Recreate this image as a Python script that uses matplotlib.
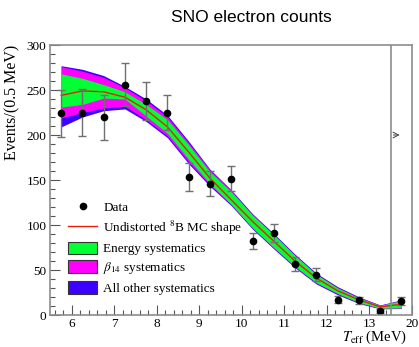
import numpy as np
import matplotlib
matplotlib.use('Agg')
import matplotlib.pyplot as plt
from matplotlib.lines import Line2D
from matplotlib.patches import Patch
from matplotlib.ticker import MultipleLocator, FixedLocator

plt.rcParams['font.family'] = 'Liberation Serif'
plt.rcParams['mathtext.fontset'] = 'stix'

# bin centres (last bin is the 13.5-20 MeV overflow, drawn at 13.75)
bin_centres = [5.75, 6.25, 6.75, 7.25, 7.75, 8.25, 8.75, 9.25, 9.75,
               10.25, 10.75, 11.25, 11.75, 12.25, 12.75, 13.25, 13.75]
data_counts = [224, 225, 220, 256, 238, 225, 153, 146, 151.5,
               82, 91.5, 57, 45, 17, 16.5, 4.5, 16]
data_errors = [26, 26, 25, 24, 21, 19, 15.5, 14, 14,
               9, 10, 8, 7, 4, 4, 2, 4.5]

mc_shape = [244, 249, 248, 242, 228, 209, 181, 152, 128,
            104, 82, 60, 41, 27, 17, 9, 12]
# band edges (low, high)
energy_lo = [231, 234, 241, 240, 221, 202, 173, 146, 123, 97, 75, 54, 36, 24, 14, 7.5, 8]
energy_hi = [268, 263, 256, 248, 234, 217, 189, 159, 137, 111, 89, 66, 45, 30, 19, 10.5, 16]
beta14_lo = [219, 225, 230, 232, 217, 199, 170, 144.5, 122.5, 96.5, 74.5, 53.5, 35.5, 23.5, 13.5, 7.2, 7.6]
beta14_hi = [276, 271, 264, 252.5, 238, 220, 191, 161, 138, 111.5, 89.5, 66.5, 45.5, 30.5, 19.5, 10.8, 16.4]
other_lo = [209, 220, 227, 229, 215, 197, 168, 143, 121.5, 95.5, 73.5, 52.5, 34.5, 22.5, 12.8, 6.8, 7.2]
other_hi = [277, 273, 266, 254, 240, 222, 193, 162, 139, 112.5, 90.5, 67.5, 46.5, 31.5, 20.2, 11.2, 16.8]

xtick_pos = [6, 7, 8, 9, 10, 11, 12, 13, 14]
xtick_labels = ['6', '7', '8', '9', '10', '11', '12', '13', '20']

fig = plt.figure(figsize=(4.19, 3.47), dpi=100)
ax = fig.add_axes([0.1205, 0.0922, 0.8628, 0.7781])

blue = '#3c00ff'
magenta = '#ff00ff'
green = '#00ff33'

ax.fill_between(bin_centres, other_lo, other_hi, color=blue, lw=0)
ax.fill_between(bin_centres, beta14_lo, beta14_hi, color=magenta, lw=0)
ax.fill_between(bin_centres, energy_lo, energy_hi, color=green, lw=0)
ax.plot(bin_centres, mc_shape, color='#e8200c', lw=1.0)

ax.errorbar(bin_centres, data_counts, yerr=data_errors, fmt='o', color='black',
            ms=4.5, ecolor='#707070', elinewidth=1.0, capsize=3, capthick=1.0)

ax.axvline(13.5, color='#8c8c8c', lw=1.2)
ax.annotate('', xy=(13.78, 200), xytext=(13.5, 200),
            arrowprops=dict(arrowstyle='->', color='#555555', lw=0.8))

ax.set_xlim(5.5, 14)
ax.set_ylim(0, 300)
ax.xaxis.set_major_locator(FixedLocator(xtick_pos))
ax.set_xticklabels(xtick_labels)
ax.xaxis.set_minor_locator(FixedLocator([v for v in np.arange(5.6, 13.45, 0.2)]))
ax.yaxis.set_major_locator(MultipleLocator(50))
ax.yaxis.set_minor_locator(MultipleLocator(10))
ax.tick_params(which='both', direction='in', top=False, right=False,
               labelsize=9.5, color='#555555', pad=3)
ax.tick_params(axis='x', which='both', pad=2)
ax.tick_params(which='major', length=7, width=0.8)
ax.tick_params(which='minor', length=3.5, width=0.8)
for s in ax.spines.values():
    s.set_color('#8c8c8c')
    s.set_linewidth(1.2)

ax.set_ylabel('Events/(0.5 MeV)', fontsize=11.5, loc='top', labelpad=4)
ax.set_xlabel(r'$T_{\rm eff}$ (MeV)', fontsize=10.5, loc='right', labelpad=-0.5)
ax.xaxis.label.set_x(0.985)

handles = [
    Line2D([], [], marker='o', color='black', ls='none', ms=4.5),
    Line2D([], [], color='#e8200c', lw=1.0),
    Patch(facecolor=green, edgecolor='#333333', lw=0.8),
    Patch(facecolor=magenta, edgecolor='#333333', lw=0.8),
    Patch(facecolor=blue, edgecolor='#333333', lw=0.8),
]
labels = ['Data', r'Undistorted $^{8}$B MC shape', 'Energy systematics',
          r'$\beta_{14}$ systematics', 'All other systematics']
ax.legend(handles, labels, loc='upper left', bbox_to_anchor=(0.035, 0.445),
          frameon=False, fontsize=9.5, handlelength=2.2, handleheight=1.1,
          handletextpad=0.45, labelspacing=0.36, borderaxespad=0)

fig.text(0.6, 0.95, 'SNO electron counts', family='Liberation Sans',
         fontsize=12.5, ha='center', va='center')

fig.savefig('out.png', dpi=100)
